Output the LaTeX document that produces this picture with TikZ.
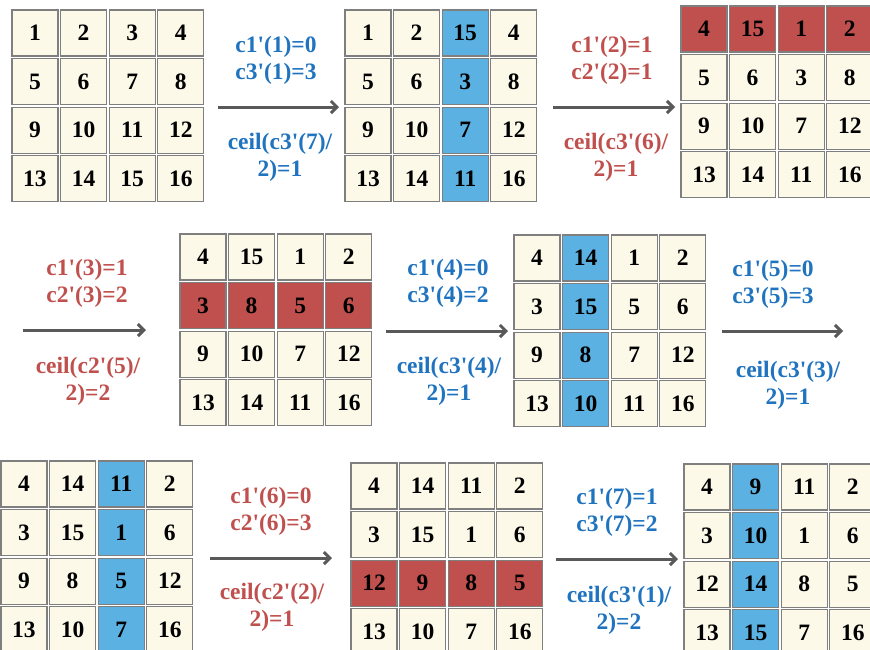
\documentclass[tikz,border=0pt]{standalone}
\usepackage{fontspec}
\setmainfont{Liberation Serif}
\usepackage{tikz}
\usetikzlibrary{arrows.meta,positioning,calc}
\definecolor{tilen}{HTML}{FCF9E8}
\definecolor{tileb}{HTML}{5BB1E1}
\definecolor{tiler}{HTML}{C0504D}
\definecolor{tileline}{HTML}{7F7F7F}
\definecolor{stepblue}{HTML}{1F73BF}
\definecolor{stepred}{HTML}{C0504D}
\definecolor{flowgray}{HTML}{595959}
\newcommand{\q}{\textquotesingle}
% one 4x4 board: name, left, top, cells (value/colour)
\newcommand{\board}[4]{%
  \foreach \v/\c [count=\i from 0] in {#4} {
    \pgfmathtruncatemacro{\row}{div(\i,4)}
    \pgfmathtruncatemacro{\col}{mod(\i,4)}
    \node[tile,fill=tile\c] (#1-\row\col) at ({#2+\col*48.6+23},{#3+\row*48.6+23}) {\v};
  }%
}
\tikzset{
  tile/.style={draw=tileline,line width=1.1pt,minimum size=46pt,inner sep=0pt,
    font=\fontsize{23.5}{25}\selectfont\bfseries},
  steplbl/.style={align=center,font=\fontsize{23.5}{27}\selectfont\bfseries},
  flow/.style={draw=flowgray,line width=3pt,-{Straight Barb[length=6pt,width=12pt]}}
}
\begin{document}
\begin{tikzpicture}[x=1pt,y=-1pt]
  \useasboundingbox (0,0) rectangle (870,649);
  % Boards
  \board{ga}{12}{10}{1/n,2/n,3/n,4/n,5/n,6/n,7/n,8/n,9/n,10/n,11/n,12/n,13/n,14/n,15/n,16/n}
  \board{gb}{345}{10}{1/n,2/n,15/b,4/n,5/n,6/n,3/b,8/n,9/n,10/n,7/b,12/n,13/n,14/n,11/b,16/n}
  \board{gc}{681}{6}{4/r,15/r,1/r,2/r,5/n,6/n,3/n,8/n,9/n,10/n,7/n,12/n,13/n,14/n,11/n,16/n}
  \board{gd}{180}{234}{4/n,15/n,1/n,2/n,3/r,8/r,5/r,6/r,9/n,10/n,7/n,12/n,13/n,14/n,11/n,16/n}
  \board{ge}{514}{235}{4/n,14/b,1/n,2/n,3/n,15/b,5/n,6/n,9/n,8/b,7/n,12/n,13/n,10/b,11/n,16/n}
  \board{gf}{1}{461}{4/n,14/n,11/b,2/n,3/n,15/n,1/b,6/n,9/n,8/n,5/b,12/n,13/n,10/n,7/b,16/n}
  \board{gg}{351}{463}{4/n,14/n,11/n,2/n,3/n,15/n,1/n,6/n,12/r,9/r,8/r,5/r,13/n,10/n,7/n,16/n}
  \board{gh}{684}{464}{4/n,9/b,11/n,2/n,3/n,10/b,1/n,6/n,12/n,14/b,8/n,5/n,13/n,15/b,7/n,16/n}
  % Arrow ends
  \coordinate (s1) at (218,107);  \coordinate (e1) at (339,107);
  \coordinate (s2) at (553,107);  \coordinate (e2) at (675,107);
  \coordinate (s3) at (23,330);   \coordinate (e3) at (146,330);
  \coordinate (s4) at (386,331);  \coordinate (e4) at (508,331);
  \coordinate (s5) at (722,331);  \coordinate (e5) at (843,331);
  \coordinate (s6) at (210,558);  \coordinate (e6) at (332,558);
  \coordinate (s7) at (556,559);  \coordinate (e7) at (678,559);
  \foreach \k in {1,...,7} \draw[flow] (s\k) -- (e\k);
  % Step labels
  \node[steplbl,text=stepblue] (t1) at (276,60) {c1\q(1)=0\\c3\q(1)=3};
  \node[steplbl,text=stepblue] (b1) at (280,157) {ceil(c3\q(7)/\\2)=1};
  \node[steplbl,text=stepred] (t2) at (612,60) {c1\q(2)=1\\c2\q(2)=1};
  \node[steplbl,text=stepred] (b2) at (616,157) {ceil(c3\q(6)/\\2)=1};
  \node[steplbl,text=stepred] (t3) at (87,283) {c1\q(3)=1\\c2\q(3)=2};
  \node[steplbl,text=stepred] (b3) at (88,381) {ceil(c2\q(5)/\\2)=2};
  \node[steplbl,text=stepblue] (t4) at (448,283) {c1\q(4)=0\\c3\q(4)=2};
  \node[steplbl,text=stepblue] (b4) at (449,381) {ceil(c3\q(4)/\\2)=1};
  \node[steplbl,text=stepblue] (t5) at (773,284) {c1\q(5)=0\\c3\q(5)=3};
  \node[steplbl,text=stepblue] (b5) at (788,385) {ceil(c3\q(3)/\\2)=1};
  \node[steplbl,text=stepred] (t6) at (271,511) {c1\q(6)=0\\c2\q(6)=3};
  \node[steplbl,text=stepred] (b6) at (272,607) {ceil(c2\q(2)/\\2)=1};
  \node[steplbl,text=stepblue] (t7) at (617,512) {c1\q(7)=1\\c3\q(7)=2};
  \node[steplbl,text=stepblue] (b7) at (619,610) {ceil(c3\q(1)/\\2)=2};
\end{tikzpicture}
\end{document}
